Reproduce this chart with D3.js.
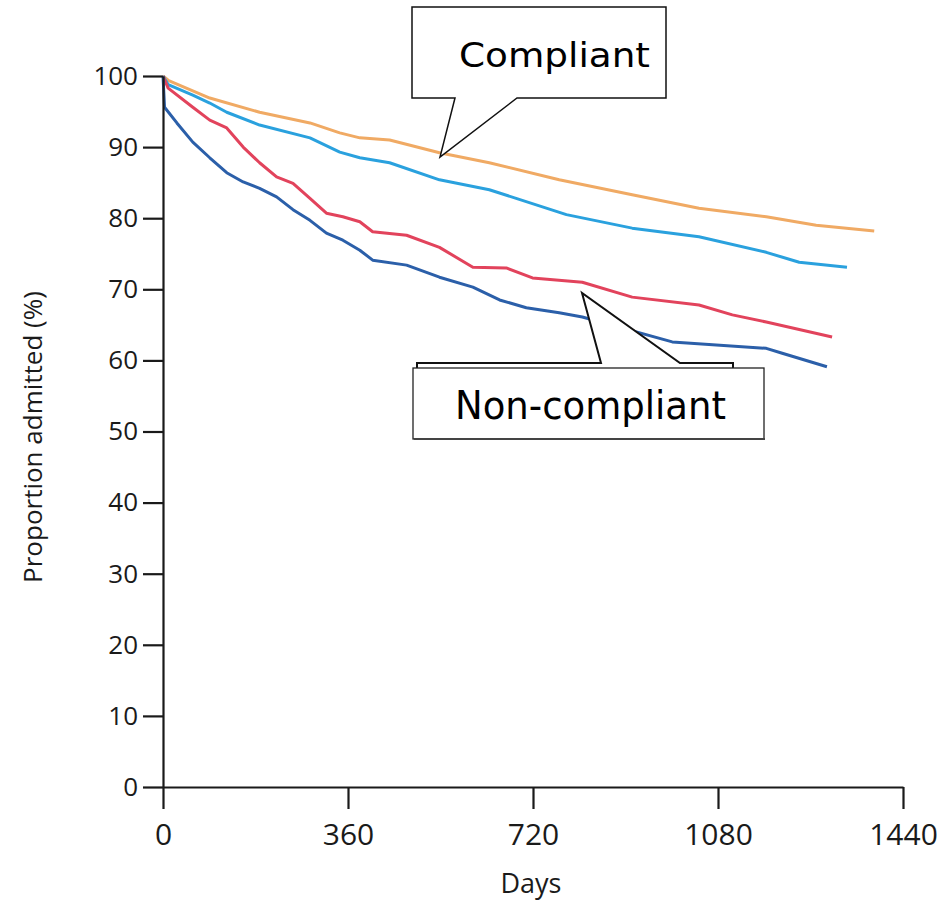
<!DOCTYPE html>
<html>
<head>
<meta charset="utf-8">
<script src="https://cdn.jsdelivr.net/npm/d3@7/dist/d3.min.js"></script>
<style>
  body, html {
    padding: 0;
    margin: 0;
    background: #fff;
  }
  svg {
    display: block;
  }
  .axis path, .axis line {
    stroke: #1a1a1a;
    stroke-width: 2.2;
  }
  .axis text {
    font-family: "Open Sans", sans-serif;
    fill: #1a1a1a;
  }
  .x.axis text {
    font-size: 30px;
  }
  .y.axis text {
    font-size: 26px;
  }
  .curve {
    fill: none;
    stroke-width: 3;
    stroke-linejoin: round;
  }
</style>
</head>
<body>
<svg width="951" height="902"></svg>

<script>

  // tick values
  var xTicks = [0, 360, 720, 1080, 1440],
      yTicks = [0, 10, 20, 30, 40, 50, 60, 70, 80, 90, 100];

  // curves: day, proportion admitted (%)
  var orangeDays = [0, 10, 91, 188, 286, 344, 383, 441, 538, 635, 771, 913, 1043, 1174, 1271, 1384],
      orangeVals = [100, 99.4, 96.9, 94.9, 93.4, 92.0, 91.3, 91.0, 89.2, 87.8, 85.4, 83.3, 81.4, 80.2, 79.0, 78.2];

  var cyanDays = [0, 10, 58, 91, 124, 188, 286, 344, 383, 441, 538, 635, 785, 913, 1043, 1174, 1238, 1331],
      cyanVals = [100, 98.8, 97.3, 96.2, 94.9, 93.1, 91.3, 89.3, 88.5, 87.8, 85.4, 84.0, 80.5, 78.6, 77.4, 75.2, 73.8, 73.1];

  var redDays = [0, 10, 58, 91, 124, 156, 188, 221, 253, 286, 318, 350, 383, 408, 474, 538, 603, 668, 719, 816, 913, 1043, 1108, 1174, 1302],
      redVals = [100, 98.3, 95.6, 93.8, 92.7, 90.0, 87.8, 85.8, 84.9, 82.8, 80.7, 80.2, 79.5, 78.1, 77.6, 75.9, 73.1, 73.0, 71.6, 71.0, 68.9, 67.8, 66.4, 65.4, 63.3];

  var blueDays = [0, 3, 27, 58, 91, 124, 156, 188, 221, 253, 286, 318, 350, 383, 408, 474, 538, 603, 655, 707, 771, 816, 991, 1174, 1205, 1292],
      blueVals = [100, 95.6, 93.4, 90.7, 88.5, 86.4, 85.1, 84.2, 83.0, 81.2, 79.7, 77.9, 76.9, 75.5, 74.1, 73.4, 71.7, 70.3, 68.5, 67.4, 66.7, 66.1, 62.6, 61.7, 61.0, 59.1];

  var series = [
    { days: orangeDays, vals: orangeVals, color: '#f0aa64' },
    { days: cyanDays,   vals: cyanVals,   color: '#2aa1de' },
    { days: redDays,    vals: redVals,    color: '#e2435c' },
    { days: blueDays,   vals: blueVals,   color: '#2b5fa9' }
  ];

  var svg = d3.select('svg');

  var x = d3.scaleLinear().domain([0, 1440]).range([163, 903]),
      y = d3.scaleLinear().domain([0, 100]).range([787, 76]);

  var line = d3.line()
    .x(function (d) { return x(d[0]); })
    .y(function (d) { return y(d[1]); });

  // curves
  svg.selectAll('.curve')
    .data(series)
    .enter().append('path')
      .attr('class', 'curve')
      .attr('stroke', function (d) { return d.color; })
      .attr('d', function (d) { return line(d3.zip(d.days, d.vals)); });

  // axes
  svg.append('g')
    .attr('class', 'x axis')
    .attr('transform', 'translate(0,' + y(0) + ')')
    .call(d3.axisBottom(x).tickValues(xTicks).tickFormat(d3.format('d'))
      .tickSize(22).tickSizeOuter(0).tickPadding(15));

  svg.append('g')
    .attr('class', 'y axis')
    .attr('transform', 'translate(' + x(0) + ',0)')
    .call(d3.axisLeft(y).tickValues(yTicks).tickSize(20).tickSizeOuter(0).tickPadding(5));

  svg.append('text')
    .attr('x', 531)
    .attr('y', 893)
    .attr('text-anchor', 'middle')
    .style('font-family', '"Open Sans", sans-serif')
    .style('font-size', '27px')
    .style('fill', '#1a1a1a')
    .text('Days');

  svg.append('text')
    .attr('transform', 'translate(42,437) rotate(-90)')
    .attr('text-anchor', 'middle')
    .style('font-family', '"Open Sans", sans-serif')
    .style('font-size', '26px')
    .style('fill', '#1a1a1a')
    .text('Proportion admitted (%)');

  // callout: Compliant
  svg.append('path')
    .attr('d', 'M412,7H666V98H517L440,157L455,98H412Z')
    .attr('fill', '#fff')
    .attr('stroke', '#111')
    .attr('stroke-width', 1.5);

  svg.append('text')
    .attr('x', 459)
    .attr('y', 67)
    .attr('textLength', 191)
    .attr('lengthAdjust', 'spacingAndGlyphs')
    .style('font-family', '"DejaVu Sans", sans-serif')
    .style('font-size', '34px')
    .style('fill', '#000')
    .text('Compliant');

  // callout: Non-compliant
  svg.append('path')
    .attr('d', 'M417,368V363H601L582,293L680,363H733V368')
    .attr('fill', '#fff')
    .attr('stroke', '#111')
    .attr('stroke-width', 2);

  svg.append('rect')
    .attr('x', 413)
    .attr('y', 368)
    .attr('width', 351)
    .attr('height', 71)
    .attr('fill', '#fff')
    .attr('stroke', '#222')
    .attr('stroke-width', 1.3);

  svg.append('line')
    .attr('x1', 414).attr('x2', 765)
    .attr('y1', 439).attr('y2', 439)
    .attr('stroke', '#444')
    .attr('stroke-width', 2);

  svg.append('text')
    .attr('x', 455)
    .attr('y', 419)
    .attr('textLength', 271)
    .attr('lengthAdjust', 'spacingAndGlyphs')
    .style('font-family', '"DejaVu Sans", sans-serif')
    .style('font-size', '39px')
    .style('fill', '#000')
    .text('Non-compliant');

</script>
</body>
</html>
